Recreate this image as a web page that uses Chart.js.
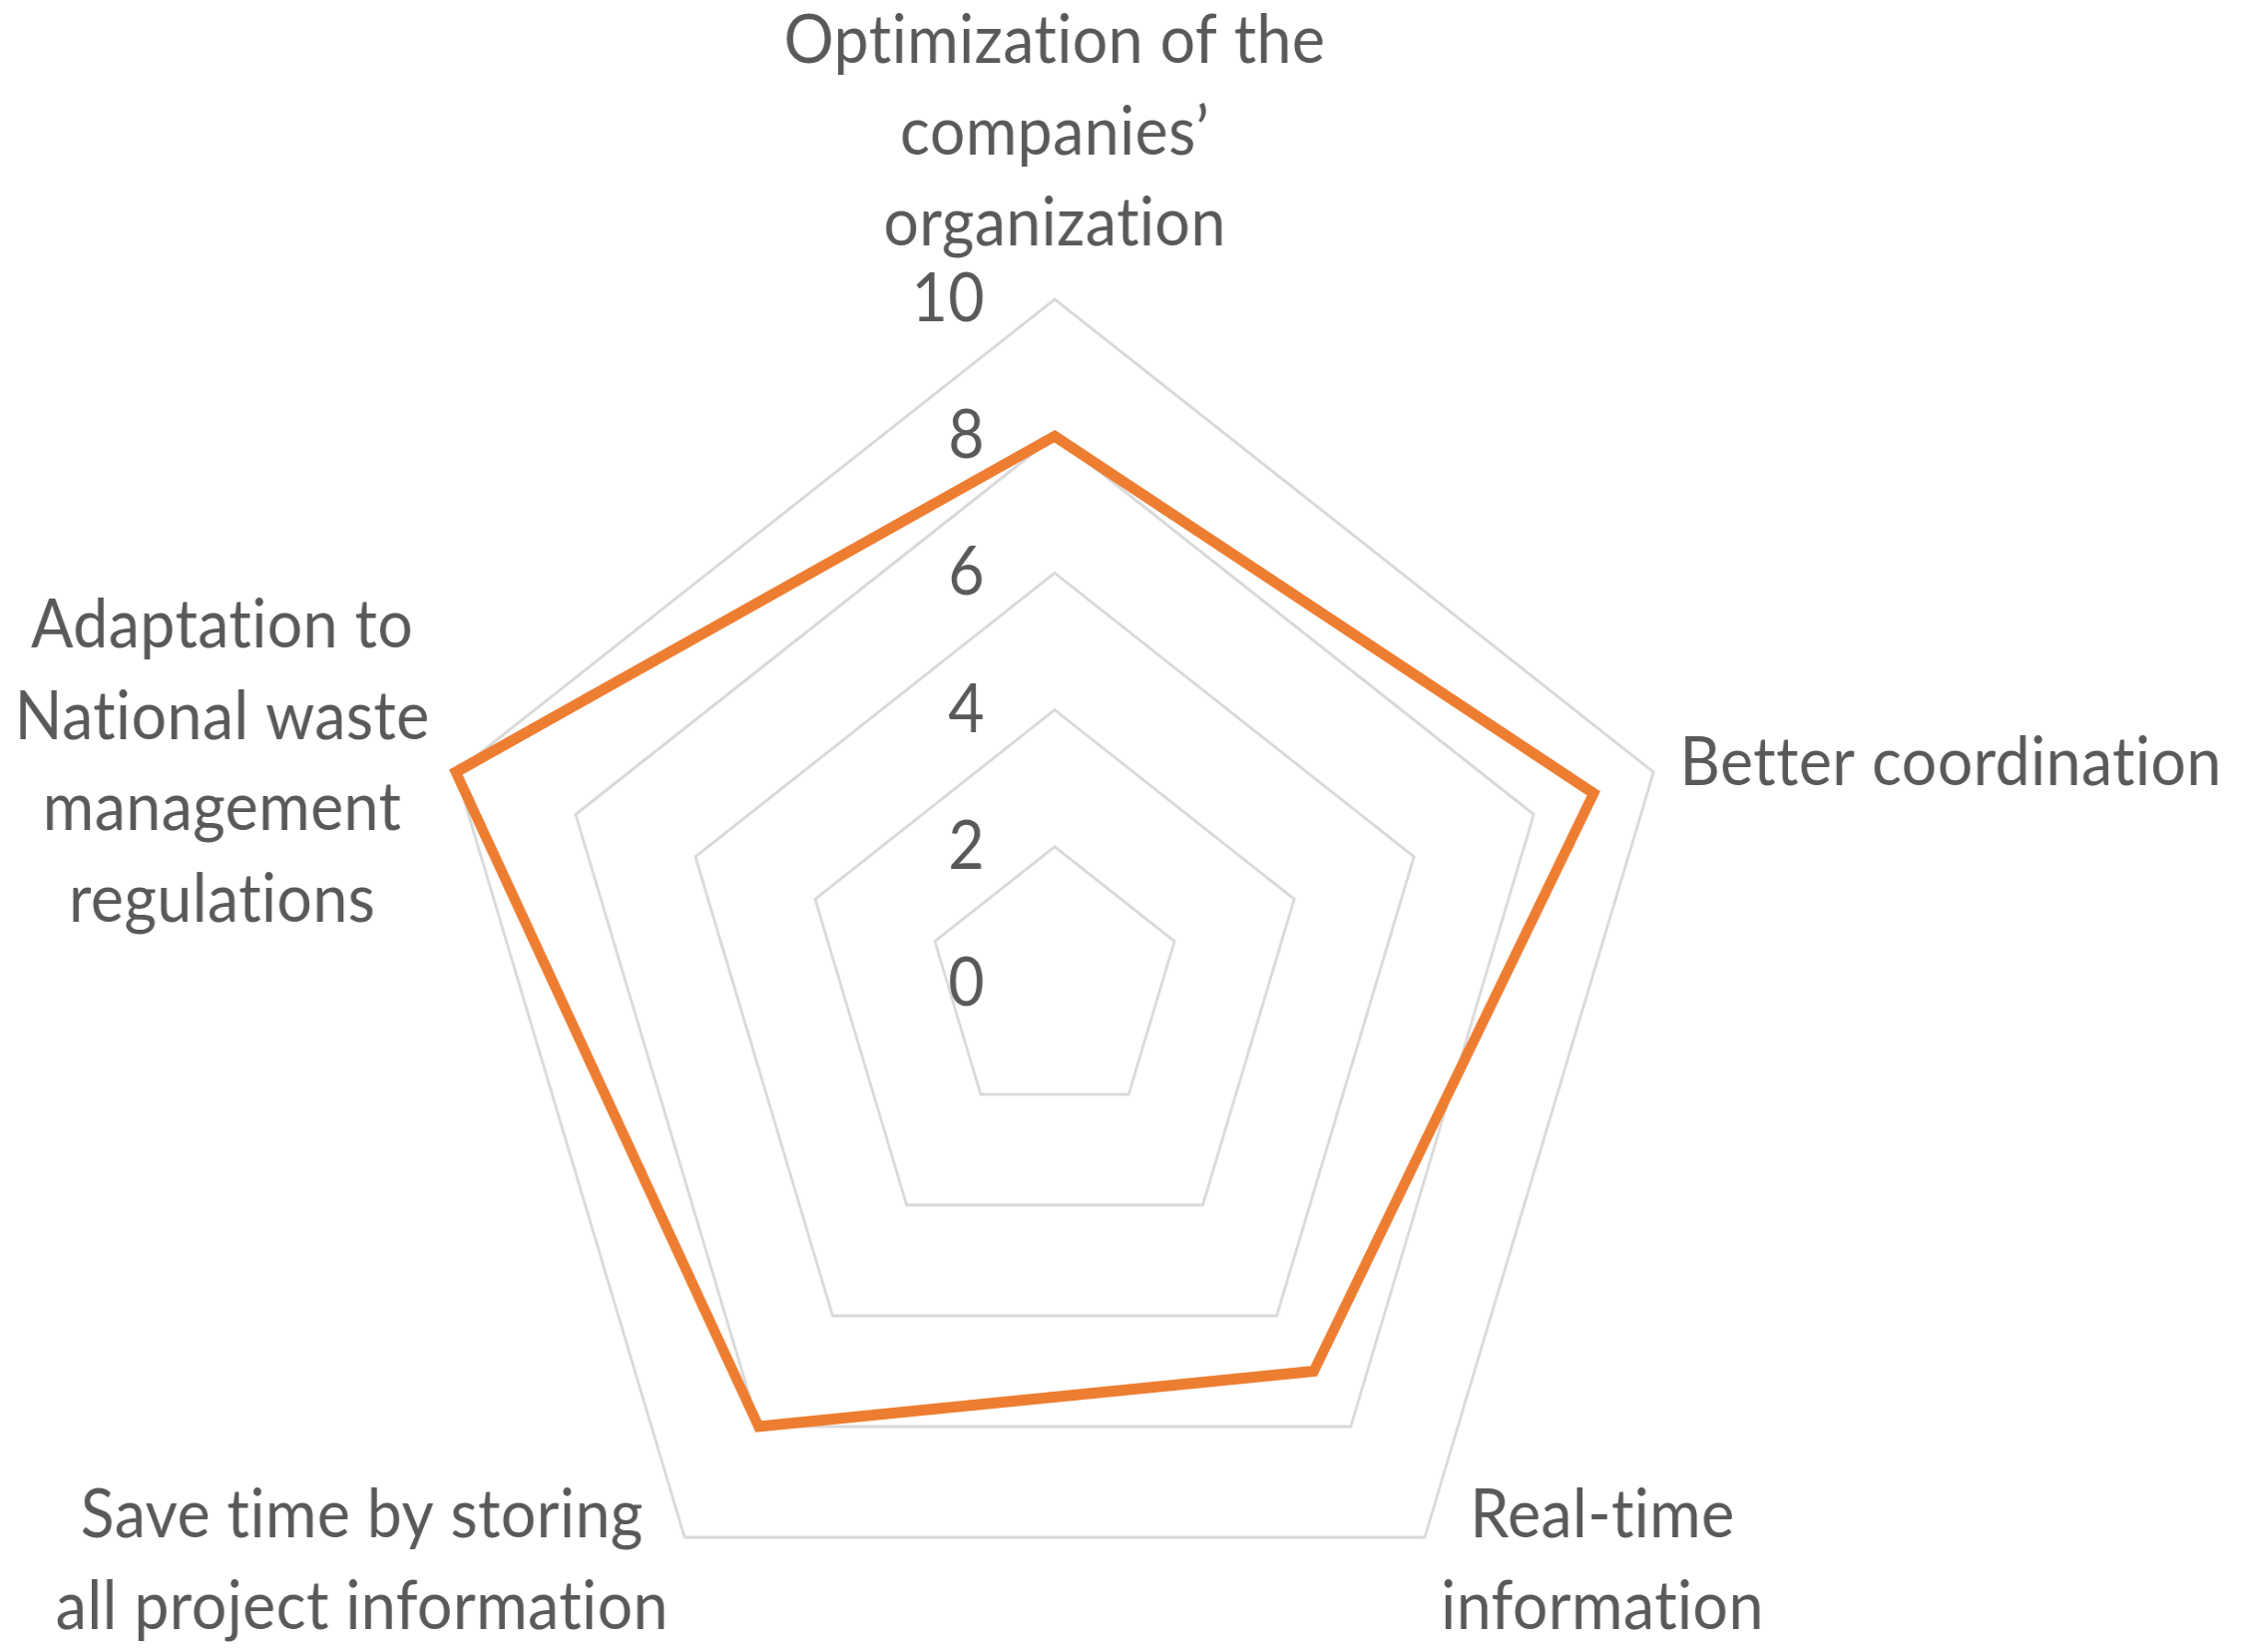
<!DOCTYPE html>
<html>
<head>
<meta charset="utf-8" />
<script src="https://cdn.jsdelivr.net/npm/chart.js@4"></script>
<style>
  body {
    margin: 0;
    background: #ffffff;
    overflow: hidden;
  }
  #wrap {
    width: 2252px;
    height: 1656px;
    overflow: hidden;
  }
  #radar {
    display: block;
  }
</style>
</head>
<body>
<div id="wrap">
  <!-- bitmap is wider than its css box: the office chart is squeezed sideways -->
  <canvas id="radar" width="2448" height="1672" style="width: 2252px; height: 1672px"></canvas>
</div>
<script>
// Data
const categories = [
  ["Optimization of the", "companies\u2019", "organization"],
  ["Better coordination"],
  ["Real-time", "information"],
  ["Save time by storing", "all project information"],
  ["Adaptation to", "National waste", "management", "regulations"],
];
const scores = [8, 9, 7, 8, 10];
const tickValues = [0, 2, 4, 6, 8, 10];

const textColor = "#595959";
const fontSize = 68;
const lineHeight = 91.5;
const labelPad = 30;

Chart.defaults.font.family = "Lato, 'Open Sans', sans-serif";

const setFont = (ctx) => {
  ctx.font = `${fontSize}px Lato`;
  ctx.fillStyle = textColor;
  // a little spacing keeps Lato from joining "ti"
  ctx.letterSpacing = "0.5px";
};

// tick numbers sit left of the vertical axis, "0" included
const tickLabels = {
  id: "tickLabels",
  afterDraw(chart) {
    const scale = chart.scales.r;
    const ctx = chart.ctx;
    ctx.save();
    setFont(ctx);
    ctx.textAlign = "right";
    ctx.textBaseline = "middle";
    scale.ticks.forEach((tick) => {
      const dist = scale.getDistanceFromCenterForValue(tick.value);
      ctx.fillText(String(tick.value), scale.xCenter - 76, scale.yCenter - dist);
    });
    ctx.restore();
  },
};

// category labels, centred blocks like the office chart
const categoryLabels = {
  id: "categoryLabels",
  afterDraw(chart) {
    const scale = chart.scales.r;
    const ctx = chart.ctx;
    ctx.save();
    setFont(ctx);
    ctx.textAlign = "center";
    ctx.textBaseline = "middle";
    categories.forEach((lines, i) => {
      const pos = scale.getPointPosition(i, scale.drawingArea + labelPad);
      const deg = Math.round((scale.getIndexAngle(i) * 180) / Math.PI) % 360;
      const blockW = Math.max(...lines.map((l) => ctx.measureText(l).width));
      let cx = pos.x;
      if (deg > 0 && deg < 180) cx = pos.x + blockW / 2;
      else if (deg > 180) cx = pos.x - blockW / 2;
      let firstY = pos.y - ((lines.length - 1) / 2) * lineHeight;
      if (deg === 0) firstY = pos.y - lineHeight / 2 - (lines.length - 1) * lineHeight;
      lines.forEach((line, j) => {
        ctx.fillText(line, cx, firstY + j * lineHeight);
      });
    });
    ctx.restore();
  },
};

const options = {
  responsive: false,
  animation: false,
  devicePixelRatio: 1,
  layout: {
    padding: { left: 100, right: 250, top: 300, bottom: 0 },
  },
  plugins: {
    legend: { display: false },
    tooltip: { enabled: false },
  },
  scales: {
    r: {
      min: 0,
      max: 10,
      afterBuildTicks: (scale) => {
        scale.ticks = tickValues.map((v) => ({ value: v }));
      },
      ticks: { display: false },
      angleLines: { display: false },
      pointLabels: { display: false },
      grid: {
        color: "#d9d9d9",
        lineWidth: 3,
      },
    },
  },
};

new Chart(document.getElementById("radar").getContext("2d"), {
  type: "radar",
  data: {
    labels: categories,
    datasets: [
      {
        label: "Score",
        data: scores,
        borderColor: "#ed7d31",
        borderWidth: 11,
        borderJoinStyle: "miter",
        fill: false,
        pointRadius: 0,
        pointHoverRadius: 0,
      },
    ],
  },
  options,
  plugins: [tickLabels, categoryLabels],
});
</script>
</body>
</html>
